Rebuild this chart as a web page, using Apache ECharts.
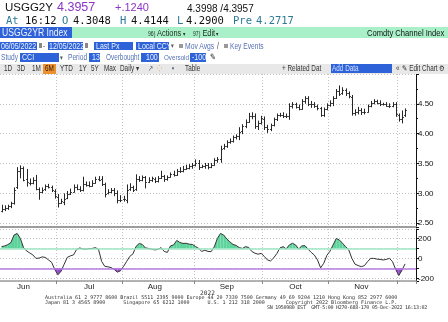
<!DOCTYPE html>
<html><head><meta charset="utf-8">
<script src="https://cdn.jsdelivr.net/npm/echarts@6/dist/echarts.min.js"></script>
<style>
html,body{margin:0;padding:0;width:448px;height:322px;overflow:hidden;background:#fff;}
#c{position:absolute;left:0;top:0;width:448px;height:322px;}
.t{position:absolute;white-space:pre;}
.mono{font-family:'DejaVu Sans Mono',monospace;}
.sans{font-family:'Liberation Sans',Arial,sans-serif;}
.n{position:absolute;white-space:pre;font-family:'Liberation Sans',Arial,sans-serif;transform:scaleX(0.78);transform-origin:0 50%;}
.bg{position:absolute;}
.blue{background:#2d62d8;}
.wt{color:#eef3ff;}
.lbl{color:#5572b5;}
</style></head>
<body>
<div id="c"></div>

<!-- row 1 -->
<div class="t sans" style="left:5px;top:1px;font-size:11.5px;line-height:13px;color:#111">USGG2Y</div>
<div class="t sans" style="left:57px;top:0.5px;font-size:12.5px;line-height:13px;color:#8d33c9">4.3957</div>
<div class="t sans" style="left:115px;top:1px;font-size:11px;line-height:13px;color:#8d33c9">+.1240</div>
<div class="t sans" style="left:187px;top:1.5px;font-size:10px;line-height:13px;color:#111">4.3998 /4.3957</div>
<!-- row 2 -->
<div class="t mono" style="left:6px;top:14.5px;font-size:10.5px;line-height:11px;color:#2d7a96">At</div>
<div class="t mono" style="left:25px;top:14.5px;font-size:10.5px;line-height:11px;color:#111">16:12</div>
<div class="t mono" style="left:62px;top:14.5px;font-size:10.5px;line-height:11px;color:#2d7a96">O</div>
<div class="t mono" style="left:73px;top:14.5px;font-size:10.5px;line-height:11px;color:#111">4.3048</div>
<div class="t mono" style="left:120px;top:14.5px;font-size:10.5px;line-height:11px;color:#2d7a96">H</div>
<div class="t mono" style="left:131px;top:14.5px;font-size:10.5px;line-height:11px;color:#111">4.4144</div>
<div class="t mono" style="left:177px;top:14.5px;font-size:10.5px;line-height:11px;color:#2d7a96">L</div>
<div class="t mono" style="left:186px;top:14.5px;font-size:10.5px;line-height:11px;color:#111">4.2900</div>
<div class="t mono" style="left:233px;top:14.5px;font-size:10.5px;line-height:11px;color:#2d7a96">Pre</div>
<div class="t mono" style="left:256px;top:14.5px;font-size:10.5px;line-height:11px;color:#2d7a96">4.2717</div>
<!-- row 3 -->
<div class="bg" style="left:0;top:26.5px;width:448px;height:11px;background:#a9f0c9"></div>
<div class="bg blue" style="left:0;top:26.5px;width:72px;height:11px"></div>
<div class="n wt" style="left:2px;top:26.5px;line-height:11px;font-size:10.5px;transform:scaleX(0.82)">USGG2YR Index</div>
<div class="n" style="left:148px;top:26.5px;line-height:11px;font-size:9.5px;color:#1d2b1d"><span style="font-size:6.5px">96)</span> Actions<span style="font-size:6px"> ▾</span></div>
<div class="n" style="left:193px;top:26.5px;line-height:11px;font-size:9.5px;color:#1d2b1d"><span style="font-size:6.5px">97)</span> Edit<span style="font-size:6px"> ▾</span></div>
<div class="n" style="left:367px;top:26.5px;line-height:11px;font-size:9.5px;color:#111;transform:scaleX(0.8)">Comdty Channel Index</div>
<!-- row 4 -->
<div class="bg blue" style="left:0;top:41.5px;width:37px;height:8.5px"></div>
<div class="n wt" style="left:1px;top:41.5px;line-height:8.5px;font-size:9px">06/05/2022</div>
<div class="bg" style="left:38.5px;top:43px;width:3px;height:5px;background:#888"></div>
<div class="n" style="left:43px;top:41.5px;line-height:8.5px;font-size:8.5px;color:#333">-</div>
<div class="bg blue" style="left:48px;top:41.5px;width:35px;height:8.5px"></div>
<div class="n wt" style="left:48.5px;top:41.5px;line-height:8.5px;font-size:9px">12/05/2022</div>
<div class="bg" style="left:84.5px;top:43px;width:3px;height:5px;background:#888"></div>
<div class="bg blue" style="left:94px;top:41.5px;width:39px;height:8.5px"></div>
<div class="n wt" style="left:96px;top:41.5px;line-height:8.5px;font-size:9px">Last Px</div>
<div class="bg blue" style="left:136px;top:41.5px;width:33px;height:8.5px"></div>
<div class="n wt" style="left:138px;top:41.5px;line-height:8.5px;font-size:9px">Local CCY</div>
<div class="n" style="left:170.5px;top:41.5px;line-height:8.5px;font-size:7px;color:#555">▾</div>
<div class="bg" style="left:179px;top:43.5px;width:4px;height:4px;background:#999"></div>
<div class="n lbl" style="left:185px;top:41.5px;line-height:8.5px;font-size:8.7px">Mov Avgs</div>
<div class="n" style="left:217px;top:41.5px;line-height:8.5px;font-size:8.5px;color:#333">/</div>
<div class="bg" style="left:224px;top:43.5px;width:4px;height:4px;background:#999"></div>
<div class="n lbl" style="left:230px;top:41.5px;line-height:8.5px;font-size:8.5px">Key Events</div>
<!-- row 5 -->
<div class="n lbl" style="left:1px;top:53px;line-height:9px;font-size:8.5px">Study</div>
<div class="bg blue" style="left:20px;top:53px;width:39px;height:9px"></div>
<div class="n wt" style="left:22px;top:53px;line-height:9px;font-size:9px">CCI</div>
<div class="n" style="left:60px;top:53px;line-height:9px;font-size:7px;color:#555">▾</div>
<div class="n lbl" style="left:68px;top:53px;line-height:9px;font-size:8.5px">Period</div>
<div class="bg blue" style="left:89px;top:53px;width:11px;height:9px"></div>
<div class="n wt" style="left:91.5px;top:53px;line-height:9px;font-size:9px">13</div>
<div class="n lbl" style="left:106px;top:53px;line-height:9px;font-size:8.2px">Overbought</div>
<div class="bg blue" style="left:141px;top:53px;width:18px;height:9px"></div>
<div class="n wt" style="left:146px;top:53px;line-height:9px;font-size:9px">100</div>
<div class="n lbl" style="left:164px;top:53px;line-height:9px;font-size:8px">Oversold</div>
<div class="bg blue" style="left:190px;top:53px;width:16px;height:9px"></div>
<div class="n wt" style="left:192px;top:53px;line-height:9px;font-size:9px">-100</div>
<div class="n" style="left:210px;top:53px;line-height:9px;font-size:9px;color:#111">✎</div>
<!-- row 6 -->
<div class="bg" style="left:0;top:63.5px;width:448px;height:10px;background:#e8e8e8"></div>
<div class="bg" style="left:43px;top:63.5px;width:13px;height:10px;background:#f0902a"></div>
<div class="n" style="left:4px;top:63.5px;line-height:10px;font-size:8.2px;color:#333">1D</div>
<div class="n" style="left:17px;top:63.5px;line-height:10px;font-size:8.2px;color:#333">3D</div>
<div class="n" style="left:32px;top:63.5px;line-height:10px;font-size:8.2px;color:#333">1M</div>
<div class="n" style="left:45px;top:63.5px;line-height:10px;font-size:8.2px;color:#222">6M</div>
<div class="n" style="left:60px;top:63.5px;line-height:10px;font-size:8.2px;color:#333">YTD</div>
<div class="n" style="left:79px;top:63.5px;line-height:10px;font-size:8.2px;color:#333">1Y</div>
<div class="n" style="left:91px;top:63.5px;line-height:10px;font-size:8.2px;color:#333">5Y</div>
<div class="n" style="left:104px;top:63.5px;line-height:10px;font-size:8.2px;color:#333">Max</div>
<div class="n" style="left:120px;top:63.5px;line-height:10px;font-size:8.2px;color:#333">Daily ▾</div>
<div class="n" style="left:148px;top:63.5px;line-height:10px;font-size:8.2px;color:#666">↗</div>
<div class="n" style="left:157px;top:63.5px;line-height:10px;font-size:8.2px;color:#f0902a">⁘</div>
<div class="n" style="left:172px;top:63.5px;line-height:10px;font-size:8.2px;color:#555">▪</div>
<div class="n" style="left:185px;top:63.5px;line-height:10px;font-size:8.2px;color:#333">Table</div>
<div class="n" style="left:282px;top:63.5px;line-height:10px;font-size:8.2px;color:#333">+ Related Dat</div>
<div class="bg blue" style="left:331px;top:64px;width:61px;height:9px"></div>
<div class="n" style="left:332px;top:64px;line-height:9px;font-size:8.2px;color:#cfe0ff">Add Data</div>
<div class="n" style="left:396px;top:63.5px;line-height:10px;font-size:8.2px;color:#333">«</div>
<div class="n" style="left:402px;top:63.5px;line-height:10px;font-size:8.2px;color:#333">✎ Edit Chart</div>
<div class="n" style="left:439px;top:63.5px;line-height:10px;font-size:8.2px;color:#333">⚙</div>
<!-- footer -->
<div class="t mono" style="left:200px;top:289.5px;font-size:6.2px;line-height:6.2px;color:#333">2022</div>
<div class="t mono" style="left:45px;top:295px;font-size:5px;line-height:5px;color:#333">Australia 61 2 9777 8600 Brazil 5511 2395 9000 Europe 44 20 7330 7500 Germany 49 69 9204 1210 Hong Kong 852 2977 6000</div>
<div class="t mono" style="left:45px;top:300px;font-size:5px;line-height:5px;color:#333">Japan 81 3 4565 8900      Singapore 65 6212 1000      U.S. 1 212 318 2000       Copyright 2022 Bloomberg Finance L.P.</div>
<div class="t mono" style="left:267px;top:305px;font-size:5px;line-height:5px;color:#333;letter-spacing:-0.25px">SN 1950980 EST  GMT-5:00 H270-688-170 05-Dec-2022 16:13:02</div>

<script>
// ---- categories (trading days shown on the chart) ----
const junDays = [6,7,8,9,10,13,14,15,16,17,21,22,23,24,27,28,29,30];
const julDays = [1,4,5,6,7,8,11,12,13,14,15,18,19,20,21,22,25,26,27,28,29];
const augDays = [1,2,3,4,5,8,9,10,11,12,15,16,17,18,19,22,23,24,25,26,29,30,31];
const sepDays = [1,2,5,6,7,8,9,12,13,14,15,16,19,20,21,22,23,26,27,28,29,30];
const octDays = [3,4,5,6,7,10,11,12,13,14,17,18,19,20,21,24,25,26,27,28,31];
const novDays = [1,2,3,4,7,8,9,10,11,14,15,16,17,18,21,22,23,24,25,28,29,30];
const decDays = [1,2,5];
const monthNames = ['Jan','Feb','Mar','Apr','May','Jun','Jul','Aug','Sep','Oct','Nov','Dec'];

// ---- USGG2YR daily OHLC (yield, %) ----
const open = [2.70,2.74,2.76,2.78,2.84,3.10,3.38,3.43,3.24,3.18,3.18,3.22,3.07,3.02,3.07,3.12,3.10,3.04,
 2.94,2.84,2.86,2.92,2.99,3.03,3.11,3.08,3.05,3.16,3.14,3.13,3.18,3.24,3.24,3.15,3.00,3.03,3.05,3.00,2.88,
 2.90,2.88,3.07,3.10,3.07,3.24,3.23,3.27,3.19,3.23,3.24,3.20,3.26,3.29,3.24,3.28,3.32,3.31,3.38,3.37,3.41,3.43,3.45,
 3.48,3.51,3.44,3.45,3.48,3.44,3.48,3.55,3.57,3.76,3.79,3.86,3.87,3.94,3.96,4.04,4.12,4.20,4.30,4.30,4.12,4.18,
 4.25,4.11,4.08,4.14,4.25,4.31,4.32,4.30,4.30,4.46,4.49,4.45,4.42,4.55,4.60,4.49,4.49,4.46,4.43,4.31,4.41,
 4.48,4.52,4.60,4.71,4.68,4.73,4.68,4.62,4.34,4.36,4.40,4.36,4.37,4.46,4.52,4.54,4.52,4.49,4.50,4.47,4.47,4.49,
 4.32,4.25,4.3048];
const high = [2.80,2.79,2.80,2.85,3.09,3.43,3.46,3.44,3.40,3.24,3.26,3.30,3.09,3.09,3.14,3.15,3.12,3.06,
 2.98,2.90,2.99,3.03,3.07,3.14,3.14,3.11,3.27,3.19,3.19,3.21,3.27,3.28,3.28,3.17,3.06,3.08,3.08,3.04,2.96,
 2.95,3.14,3.16,3.12,3.31,3.28,3.29,3.28,3.26,3.27,3.26,3.28,3.37,3.30,3.29,3.34,3.37,3.40,3.43,3.45,3.47,3.48,3.50,
 3.56,3.55,3.47,3.50,3.50,3.50,3.58,3.60,3.79,3.82,3.88,3.91,3.96,3.98,4.10,4.15,4.23,4.34,4.35,4.33,4.21,4.29,
 4.28,4.14,4.16,4.26,4.33,4.34,4.35,4.33,4.50,4.52,4.51,4.48,4.57,4.62,4.62,4.54,4.52,4.48,4.44,4.43,4.50,
 4.55,4.62,4.74,4.80,4.77,4.75,4.70,4.64,4.40,4.44,4.42,4.41,4.48,4.54,4.57,4.56,4.55,4.51,4.52,4.50,4.52,4.52,
 4.33,4.38,4.4144];
const low = [2.69,2.71,2.73,2.76,2.82,3.08,3.26,3.21,3.12,3.14,3.16,3.06,2.90,3.01,3.05,3.09,3.03,2.92,
 2.77,2.83,2.81,2.91,2.98,3.02,3.06,3.03,3.04,3.12,3.11,3.12,3.17,3.21,3.13,2.94,2.99,3.01,2.96,2.84,2.86,
 2.87,2.84,3.05,3.03,3.05,3.20,3.21,3.09,3.18,3.20,3.18,3.19,3.25,3.20,3.22,3.27,3.29,3.30,3.35,3.36,3.40,3.41,3.42,
 3.46,3.40,3.43,3.42,3.41,3.43,3.47,3.52,3.52,3.74,3.77,3.84,3.86,3.91,3.90,4.00,4.10,4.19,4.25,4.09,4.07,4.16,
 4.07,4.02,4.05,4.13,4.22,4.29,4.27,4.27,4.24,4.43,4.43,4.40,4.41,4.51,4.47,4.44,4.44,4.40,4.29,4.29,4.40,
 4.46,4.47,4.59,4.64,4.66,4.64,4.60,4.31,4.31,4.33,4.32,4.33,4.36,4.45,4.50,4.50,4.47,4.48,4.46,4.44,4.45,4.29,
 4.21,4.18,4.2900];
const close = [2.74,2.76,2.78,2.83,3.06,3.38,3.42,3.23,3.19,3.17,3.22,3.08,3.02,3.06,3.12,3.11,3.05,2.95,
 2.84,2.87,2.90,2.99,3.03,3.11,3.08,3.05,3.16,3.14,3.13,3.18,3.24,3.23,3.15,2.99,3.03,3.05,3.00,2.88,2.89,
 2.91,3.06,3.10,3.06,3.24,3.23,3.27,3.19,3.23,3.25,3.20,3.26,3.29,3.24,3.27,3.32,3.31,3.38,3.37,3.40,3.43,3.45,3.48,
 3.51,3.44,3.45,3.48,3.44,3.48,3.55,3.57,3.75,3.79,3.86,3.87,3.94,3.96,4.03,4.12,4.20,4.30,4.29,4.12,4.18,4.26,
 4.11,4.08,4.14,4.25,4.31,4.32,4.30,4.29,4.46,4.50,4.45,4.42,4.55,4.60,4.49,4.49,4.46,4.43,4.31,4.41,4.48,
 4.52,4.60,4.71,4.67,4.73,4.68,4.63,4.34,4.36,4.40,4.36,4.37,4.46,4.52,4.54,4.52,4.49,4.50,4.47,4.47,4.49,4.33,
 4.25,4.28,4.3957];

// ---- CCI(13) values ----
const cci = [118,125,138,160,235,250,200,110,75,55,35,0,3,15,10,-15,-40,-110,
 -165,-130,-60,10,25,35,90,105,95,92,98,100,108,90,-30,-80,-85,-92,-110,-138,-125,
 -80,-30,20,45,120,150,140,105,100,92,85,90,108,70,60,125,135,180,160,150,152,143,140,
 120,100,70,82,70,68,115,200,250,235,195,165,140,130,108,100,118,110,70,52,42,50,
 20,-15,-26,5,48,105,118,95,135,152,135,95,125,128,92,60,33,-15,-95,-50,30,
 72,135,200,185,152,118,85,0,-58,-72,-83,-73,-33,0,0,-7,-10,-16,-10,0,-33,-110,
 -172,-120,-55.2569];

const priceTicks = [2.5,3.0,3.5,4.0,4.5];
const cciTicks = [-200,0,200];
const lastPrice = 4.3957;
const lastCci = -55.2569;
const overbought = 100, oversold = -100;

// ---- build categories ----
const pad2 = n => (n < 10 ? '0' : '') + n;
const dates = [].concat(
  junDays.map(d => '2022-06-' + pad2(d)),
  julDays.map(d => '2022-07-' + pad2(d)),
  augDays.map(d => '2022-08-' + pad2(d)),
  sepDays.map(d => '2022-09-' + pad2(d)),
  octDays.map(d => '2022-10-' + pad2(d)),
  novDays.map(d => '2022-11-' + pad2(d)),
  decDays.map(d => '2022-12-' + pad2(d))
);
const cats = dates.concat(['pad1','pad2','pad3']);
const monthOf = s => s.slice(0,4) === '2022' ? +s.slice(5,7) : -1;
const dayOf = s => +s.slice(8,10);
const isMonthStart = idx => idx > 0 && idx < dates.length && monthOf(dates[idx]) !== monthOf(dates[idx-1]);
const labelIdx = new Set();
{ const seen = new Set();
  dates.forEach((d,i) => { const m = monthOf(d); if (!seen.has(m) && dayOf(d) >= 15) { seen.add(m); labelIdx.add(i); } }); }

const FONT = "'Liberation Sans',Arial,sans-serif";
const GRIDC = '#c2c2c2';

const ohlc = dates.map((d,i) => [i, open[i], high[i], low[i], close[i]]);
const segs = cci.slice(0,-1).map((v,i) => [i, v, cci[i+1]]);
const cciData = cci.concat([null,null,null]);

function renderBar(params, api) {
  const i = api.value(0);
  const o = api.coord([i, api.value(1)]);
  const h = api.coord([i, api.value(2)]);
  const l = api.coord([i, api.value(3)]);
  const c = api.coord([i, api.value(4)]);
  const bw = api.size([1, 0])[0];
  const tw = Math.max(1, bw * 0.42);
  const x = Math.round(h[0]) + 0.5;
  const st = {stroke: '#262626', lineWidth: 1};
  const oy = Math.round(o[1]) + 0.5, cy = Math.round(c[1]) + 0.5;
  return {type: 'group', children: [
    {type: 'line', shape: {x1: x, y1: h[1] - 0.5, x2: x, y2: l[1] + 0.5}, style: st},
    {type: 'line', shape: {x1: x - tw, y1: oy, x2: x, y2: oy}, style: st},
    {type: 'line', shape: {x1: x, y1: cy, x2: x + tw, y2: cy}, style: st}
  ]};
}

const BANDS = [[overbought, 1, '#5ed49c'], [oversold, -1, '#9747d2']];
function renderFill(params, api) {
  const i = api.value(0), a = api.value(1), b = api.value(2);
  const p0 = api.coord([i, a]), p1 = api.coord([i + 1, b]);
  const kids = [];
  BANDS.forEach(([th, sgn, col]) => {
    const y = api.coord([i, th])[1];
    const A = sgn * (a - th), B = sgn * (b - th);
    if (A <= 0 && B <= 0) return;
    let pts;
    if (A > 0 && B > 0) pts = [[p0[0], y], p0, p1, [p1[0], y]];
    else {
      const t = A / (A - B);
      const xm = p0[0] + t * (p1[0] - p0[0]);
      pts = A > 0 ? [[p0[0], y], p0, [xm, y]] : [[xm, y], p1, [p1[0], y]];
    }
    kids.push({type: 'polygon', shape: {points: pts}, style: {fill: col}});
  });
  return {type: 'group', children: kids};
}

const tagLabel = txt => ({show: true, position: 'end', formatter: txt, color: '#fff', backgroundColor: '#000',
  padding: [1, 2, 1, 2], fontSize: 8, fontFamily: FONT, distance: 1});

const chart = echarts.init(document.getElementById('c'), null, {renderer: 'canvas', width: 448, height: 322});
chart.setOption({
  animation: false,
  backgroundColor: '#fff',
  grid: [
    {left: 0, right: 32, top: 74, height: 153},
    {left: 0, right: 32, top: 229, height: 52}
  ],
  xAxis: [
    {type: 'category', gridIndex: 0, data: cats, boundaryGap: true,
     axisLine: {show: true, onZero: false, lineStyle: {color: '#9c9c9c', width: 2}},
     axisTick: {show: false}, axisLabel: {show: false},
     splitLine: {show: true, interval: isMonthStart, lineStyle: {color: GRIDC, type: [1, 2], width: 1}}},
    {type: 'category', gridIndex: 1, data: cats, boundaryGap: true,
     axisLine: {show: true, onZero: false, lineStyle: {color: '#9c9c9c', width: 1.5}},
     axisTick: {show: true, interval: isMonthStart, length: 3, lineStyle: {color: '#888'}},
     axisLabel: {show: true, interval: i => labelIdx.has(i), formatter: v => monthNames[monthOf(v) - 1] || '',
       fontSize: 8, color: '#222', margin: 2, fontFamily: FONT},
     splitLine: {show: true, interval: isMonthStart, lineStyle: {color: GRIDC, type: [1, 2], width: 1}}}
  ],
  yAxis: [
    {type: 'value', gridIndex: 0, position: 'right', min: 2.435, max: 5.0, splitNumber: 5,
     axisLine: {show: true, lineStyle: {color: '#111'}},
     axisTick: {show: true, length: 3, lineStyle: {color: '#111'}},
     minorTick: {show: true, splitNumber: 2, length: 2, lineStyle: {color: '#111'}},
     axisLabel: {fontSize: 8, color: '#111', margin: 2, fontFamily: FONT,
       formatter: v => priceTicks.some(t => Math.abs(t - v) < 1e-6) ? v.toFixed(2) : ''},
     splitLine: {show: true, lineStyle: {color: GRIDC, type: [1, 2]}}},
    {type: 'value', gridIndex: 1, position: 'right', min: -227, max: 295, splitNumber: 5,
     axisLine: {show: true, lineStyle: {color: '#111'}},
     axisTick: {show: true, length: 3, lineStyle: {color: '#111'}},
     axisLabel: {fontSize: 8, color: '#111', margin: 2, fontFamily: FONT,
       formatter: v => cciTicks.some(t => Math.abs(t - v) < 1e-6) ? String(v) : ''},
     splitLine: {show: true, lineStyle: {color: GRIDC, type: [1, 2]}}}
  ],
  series: [
    {type: 'custom', name: 'USGG2YR', xAxisIndex: 0, yAxisIndex: 0, data: ohlc,
     encode: {x: 0, y: [1, 2, 3, 4]}, renderItem: renderBar, z: 3, silent: true},
    {type: 'line', xAxisIndex: 0, yAxisIndex: 0, data: [], z: 6, silent: true,
     markLine: {silent: true, symbol: ['none', 'none'], animation: false,
       data: [{yAxis: lastPrice, lineStyle: {opacity: 0}, label: tagLabel(lastPrice.toFixed(4))}]}},
    {type: 'custom', name: 'CCI fill', xAxisIndex: 1, yAxisIndex: 1, data: segs,
     encode: {x: 0, y: [1, 2]}, renderItem: renderFill, z: 2, silent: true},
    {type: 'line', xAxisIndex: 1, yAxisIndex: 1, data: [], z: 1, silent: true,
     markLine: {silent: true, symbol: ['none', 'none'], animation: false, label: {show: false},
       data: [
         {yAxis: overbought, lineStyle: {color: '#9fe9c5', width: 1.5, type: 'solid'}},
         {yAxis: oversold, lineStyle: {color: '#b67ee4', width: 1.5, type: 'solid'}}
       ]}},
    {type: 'line', name: 'CCI', xAxisIndex: 1, yAxisIndex: 1, data: cciData, symbol: 'none',
     showSymbol: false, lineStyle: {color: '#333', width: 1}, z: 4, silent: true,
     markLine: {silent: true, symbol: ['none', 'none'], animation: false,
       data: [{yAxis: lastCci, lineStyle: {opacity: 0}, label: tagLabel(lastCci.toFixed(4))}]}}
  ]
});
</script>
</body></html>
